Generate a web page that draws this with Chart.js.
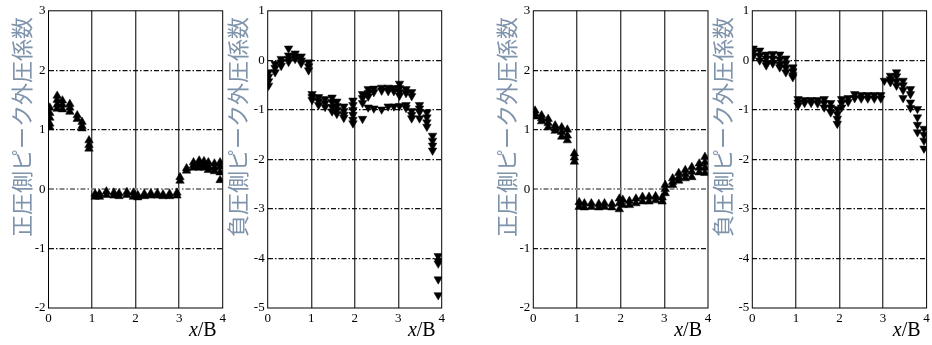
<!DOCTYPE html>
<html>
<head>
<meta charset="utf-8">
<script src="https://cdn.jsdelivr.net/npm/chart.js@4.4.1/dist/chart.umd.min.js"></script>
<style>
  body { margin: 0; background: #fff; }
  #wrap { position: relative; width: 932px; height: 345px; overflow: hidden; }
  canvas { position: absolute; top: 0; }
</style>
</head>
<body>
<div id="wrap">
  <canvas id="c1" width="232" height="345" style="left:0px"></canvas>
  <canvas id="c2" width="226" height="345" style="left:222px"></canvas>
  <canvas id="c3" width="224" height="345" style="left:490px"></canvas>
  <canvas id="c4" width="224" height="345" style="left:708px"></canvas>
</div>
<script>
// Axis titles
const posTitle = "正圧側ピーク外圧係数";
const negTitle = "負圧側ピーク外圧係数";

// Panel 1 - positive peak (left case)
const x1 = [0.03, 0.2, 0.32, 0.49, 0.66, 0.77, 0.93, 1.07, 1.17, 1.33, 1.5, 1.62, 1.8, 1.95, 2.05,
  2.2, 2.35, 2.5, 2.63, 2.78, 2.95, 3.02, 3.17, 3.33, 3.46, 3.57, 3.67, 3.81, 3.94];
const v1 = [
  [1.37, 1.28, 1.2, 1.1, 1.04], [1.57, 1.5, 1.42, 1.35], [1.49, 1.42, 1.34], [1.43, 1.37, 1.3],
  [1.24, 1.18], [1.13, 1.06, 1.02], [0.82, 0.74, 0.68],
  [-0.08, -0.13], [-0.08, -0.13], [-0.04, -0.1], [-0.06, -0.11], [-0.07, -0.12], [-0.05, -0.1],
  [-0.06, -0.13], [-0.1, -0.14], [-0.08, -0.12], [-0.07, -0.11], [-0.07, -0.11], [-0.09, -0.12],
  [-0.08, -0.12], [-0.06, -0.11],
  [0.2, 0.14], [0.35, 0.31], [0.45, 0.4, 0.36], [0.48, 0.42, 0.36], [0.47, 0.41, 0.36],
  [0.45, 0.38, 0.32], [0.43, 0.36, 0.3], [0.45, 0.38, 0.28, 0.15]
];

// Panel 2 - negative peak (left case)
const x2 = [0.02, 0.17, 0.31, 0.48, 0.63, 0.77, 0.94, 1.02, 1.17, 1.32, 1.48, 1.59, 1.75, 1.96,
  2.18, 2.31, 2.44, 2.62, 2.77, 2.9, 3.03, 3.18, 3.31, 3.49, 3.66, 3.79, 3.92];
const v2 = [
  [-0.24, -0.33, -0.42, -0.51], [-0.07, -0.15, -0.24], [0.03, -0.04, -0.11], [0.24, 0.1, 0.03, -0.03],
  [0.14, 0.08, 0.03], [0.08, 0.0, -0.06], [-0.04, -0.12, -0.2],
  [-0.68, -0.74, -0.8], [-0.74, -0.82, -0.9], [-0.78, -0.86, -0.94], [-0.75, -0.84, -0.94, -1.03],
  [-0.83, -0.92, -1.0, -1.08], [-0.93, -1.02, -1.1, -1.16], [-0.81, -0.9, -1.0, -1.1, -1.2, -1.27],
  [-0.68, -0.76, -0.86, -1.18], [-0.58, -0.66, -0.73, -0.95], [-0.57, -0.64, -0.97],
  [-0.55, -0.61, -0.99], [-0.55, -0.62, -0.93], [-0.56, -0.62, -0.93],
  [-0.47, -0.56, -0.64, -0.71, -0.92], [-0.58, -0.66, -0.9, -0.96], [-0.64, -0.72, -1.02, -1.1, -1.17],
  [-0.9, -0.97, -1.04, -1.17], [-1.05, -1.15, -1.25, -1.34], [-1.52, -1.62, -1.72, -1.82],
  [-3.95, -4.05, -4.1, -4.42, -4.74]
];

// Panel 3 - positive peak (right case)
const x3 = [0.04, 0.19, 0.34, 0.5, 0.65, 0.78, 0.94, 1.05, 1.17, 1.33, 1.5, 1.63, 1.8, 1.97, 2.05,
  2.2, 2.35, 2.5, 2.65, 2.8, 2.95, 3.02, 3.19, 3.33, 3.48, 3.63, 3.8, 3.93];
const v3 = [
  [1.32, 1.27, 1.22], [1.24, 1.19, 1.14], [1.18, 1.11, 1.04], [1.07, 1.02, 0.98],
  [1.04, 0.96, 0.88], [1.0, 0.9, 0.82], [0.6, 0.53, 0.46],
  [-0.22, -0.3], [-0.24, -0.31], [-0.24, -0.3], [-0.25, -0.31], [-0.24, -0.3], [-0.25, -0.31],
  [-0.16, -0.24, -0.34], [-0.18, -0.27], [-0.2, -0.27], [-0.16, -0.24], [-0.13, -0.21],
  [-0.13, -0.21], [-0.12, -0.19], [-0.14, -0.21],
  [0.07, 0.0, -0.07], [0.18, 0.12, 0.07], [0.27, 0.2, 0.14], [0.32, 0.25, 0.18],
  [0.37, 0.29, 0.2], [0.43, 0.36, 0.28], [0.54, 0.45, 0.36, 0.27]
];

// Panel 4 - negative peak (right case)
const x4 = [0.02, 0.17, 0.32, 0.47, 0.63, 0.77, 0.93, 1.05, 1.2, 1.35, 1.5, 1.65, 1.8, 1.95, 2.05,
  2.2, 2.35, 2.5, 2.65, 2.8, 2.95, 3.03, 3.17, 3.31, 3.46, 3.63, 3.79, 3.94];
const v4 = [
  [0.24, 0.16, 0.08], [0.2, 0.1, 0.0], [0.12, 0.04, -0.05, -0.1], [0.13, 0.04, -0.06],
  [0.12, 0.02, -0.08, -0.14], [0.04, -0.06, -0.15, -0.24], [-0.14, -0.22, -0.3, -0.34],
  [-0.78, -0.85, -0.91], [-0.8, -0.86], [-0.8, -0.86], [-0.8, -0.87], [-0.78, -0.86, -0.95],
  [-0.86, -0.95, -1.05], [-0.98, -1.08, -1.18, -1.28], [-0.78, -0.86, -0.95], [-0.76, -0.84],
  [-0.68, -0.76], [-0.7, -0.77], [-0.7, -0.77], [-0.7, -0.77], [-0.7, -0.77],
  [-0.41], [-0.31, -0.38, -0.44], [-0.24, -0.32, -0.42, -0.51], [-0.41, -0.5, -0.6, -0.76],
  [-0.58, -0.68, -0.85, -0.96], [-0.98, -1.15, -1.3, -1.45], [-1.38, -1.5, -1.62, -1.78]
];

// y ranges
const posRange = [-2, 3];
const negRange = [-5, 1];

// frame, x/B label and rotated y title
const panelText = {
  id: "panelText",
  afterDraw(chart, args, opts) {
    const { ctx, chartArea: a } = chart;
    ctx.save();
    ctx.strokeStyle = "#000";
    ctx.lineWidth = 1;
    ctx.strokeRect(a.left, a.top, a.right - a.left, a.bottom - a.top);

    ctx.fillStyle = "#000";
    ctx.textBaseline = "alphabetic";
    ctx.textAlign = "right";
    ctx.font = '20px "Liberation Serif"';
    const bw = ctx.measureText("/B").width;
    ctx.fillText("/B", a.right - 6, 336);
    ctx.font = 'italic 20px "Liberation Serif"';
    ctx.fillText("x", a.right - 6 - bw, 336);

    ctx.translate(opts.titleX, 127);
    ctx.rotate(-Math.PI / 2);
    ctx.textAlign = "center";
    ctx.textBaseline = "middle";
    ctx.font = '22px "Noto Sans CJK JP"';
    ctx.fillStyle = "#7f93ab";
    ctx.fillText(opts.title, 0, 0);
    ctx.restore();
  }
};

function makePoints(xs, vals) {
  const pts = [];
  xs.forEach((x, i) => {
    vals[i].forEach(v => pts.push({ x: x, y: v }));
  });
  return pts;
}

function makePanel(id, xs, vals, range, title, down, layout) {
  const ctx = document.getElementById(id).getContext("2d");
  return new Chart(ctx, {
    type: "scatter",
    data: {
      datasets: [{
        data: makePoints(xs, vals),
        pointStyle: "triangle",
        rotation: down ? 180 : 0,
        pointRadius: 4.9,
        backgroundColor: "#000",
        borderColor: "#000",
        borderWidth: 0.5
      }]
    },
    options: {
      responsive: false,
      animation: false,
      layout: { padding: { top: 10, right: layout.padRight, left: 0, bottom: 0 } },
      plugins: {
        legend: { display: false },
        tooltip: { enabled: false },
        panelText: { title: title, titleX: layout.titleX }
      },
      scales: {
        x: {
          type: "linear", min: 0, max: 4,
          ticks: {
            stepSize: 1, padding: 3, color: "#000",
            font: { family: "Liberation Serif", size: 13 }
          },
          grid: {
            drawTicks: false,
            lineWidth: 1.4,
            color: c => (c.tick.value === 0 || c.tick.value === 4) ? "rgba(0,0,0,0)" : "#444"
          },
          border: { display: false },
          afterFit: s => { s.height = 37; s.paddingLeft = 0; s.paddingRight = 0; }
        },
        y: {
          type: "linear", min: range[0], max: range[1],
          ticks: {
            stepSize: 1, padding: 3, color: "#000",
            font: { family: "Liberation Serif", size: 13 }
          },
          grid: {
            drawTicks: false,
            lineWidth: c => (c.tick.value === 0 && !down) ? 2 : 1.2,
            color: c => {
              const v = c.tick.value;
              if (v === range[0] || v === range[1]) return "rgba(0,0,0,0)";
              if (v === 0 && !down) return "#8a8a8a";
              return "#111";
            }
          },
          border: { display: false, dash: [5, 2, 1.5, 2] },
          afterFit: s => { s.width = layout.yWidth; }
        }
      }
    },
    plugins: [panelText]
  });
}

makePanel("c1", x1, v1, posRange, posTitle, false, { yWidth: 48.5, padRight: 9.3, titleX: 21.5 });
makePanel("c2", x2, v2, negRange, negTitle, true, { yWidth: 45.7, padRight: 6.3, titleX: 15.5 });
makePanel("c3", x3, v3, posRange, posTitle, false, { yWidth: 43.3, padRight: 6, titleX: 16.5 });
makePanel("c4", x4, v4, negRange, negTitle, true, { yWidth: 44.3, padRight: 5.3, titleX: 15 });
</script>
</body>
</html>
